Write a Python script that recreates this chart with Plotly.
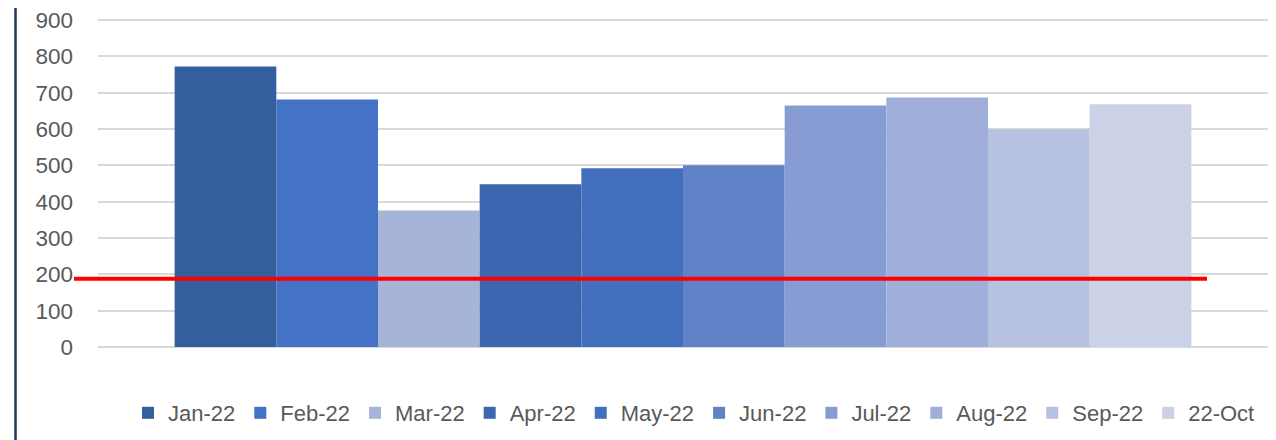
import plotly.graph_objects as go

months = ["Jan-22", "Feb-22", "Mar-22", "Apr-22", "May-22", "Jun-22",
          "Jul-22", "Aug-22", "Sep-22", "22-Oct"]
values = [772, 681, 376, 448, 492, 500, 665, 687, 599, 668]
colors = ["#355E9F", "#4472C4", "#A6B4D8", "#3D66B0", "#4270BE", "#6182C7",
          "#869CD3", "#A0AFDA", "#B7C2E0", "#CBD1E6"]
threshold = 188
y_ticks = [0, 100, 200, 300, 400, 500, 600, 700, 800, 900]

# page has an 8px body margin; work in page coordinates and subtract it
OFF = 8
W, H = 1276 - OFF, 440 - OFF
PX_PER_UNIT = 327.5 / 900          # pixel height of one value unit
EXTRA = 6                          # px of plot area above the 900 gridline
ml, mr, mt, mb = 98 - OFF, 16 - OFF, 19.5 - EXTRA - OFF, 93
pw = W - ml - mr
ph = H - mt - mb
ytop = 900 + EXTRA / PX_PER_UNIT

fig = go.Figure()
for m, v, c in zip(months, values, colors):
    fig.add_trace(go.Bar(x=[""], y=[v], name=m, marker=dict(color=c, line=dict(width=0))))

FONT = "Liberation Sans"
fig.update_layout(
    width=W, height=H,
    margin=dict(l=ml, r=mr, t=mt, b=mb, pad=0, autoexpand=False),
    paper_bgcolor="white", plot_bgcolor="white",
    barmode="group", bargap=0.131, bargroupgap=0,
    font=dict(family=FONT, size=22, color="#595959"),
    showlegend=True,
    legend=dict(orientation="h", x=(128 - 98) / pw, xanchor="left",
                yref="container", y=1 - (413 - OFF) / H, yanchor="middle",
                font=dict(size=22, color="#595959"), itemwidth=30,
                bgcolor="rgba(0,0,0,0)", traceorder="normal"),
    xaxis=dict(showticklabels=False, showgrid=False, zeroline=False, showline=False,
               range=[-0.5, 0.5], automargin=False),
    yaxis=dict(range=[0, ytop], tickvals=y_ticks, showgrid=True, gridcolor="#D9D9D9",
               gridwidth=1.5, zeroline=True, zerolinecolor="#D9D9D9", zerolinewidth=1.5,
               showline=False, ticks="", ticklabelstandoff=24, automargin=False,
               ticklabeloverflow="allow",
               tickfont=dict(size=22.5, color="#595959")),
)

# red threshold line extending past the plot area
fig.add_shape(type="line", xref="paper", yref="y",
              x0=(74 - 98) / pw, x1=(1207 - 98) / pw, y0=threshold, y1=threshold,
              line=dict(color="#FF0000", width=4), layer="above")
# left chart border
bx = (15.5 - 98) / pw
fig.add_shape(type="line", xref="paper", yref="paper",
              x0=bx, x1=bx, y0=-(mb + 5) / ph, y1=(ph + mt + 5) / ph,
              line=dict(color="#1B3A5E", width=2.5), layer="above")

fig.write_html("out.html")
